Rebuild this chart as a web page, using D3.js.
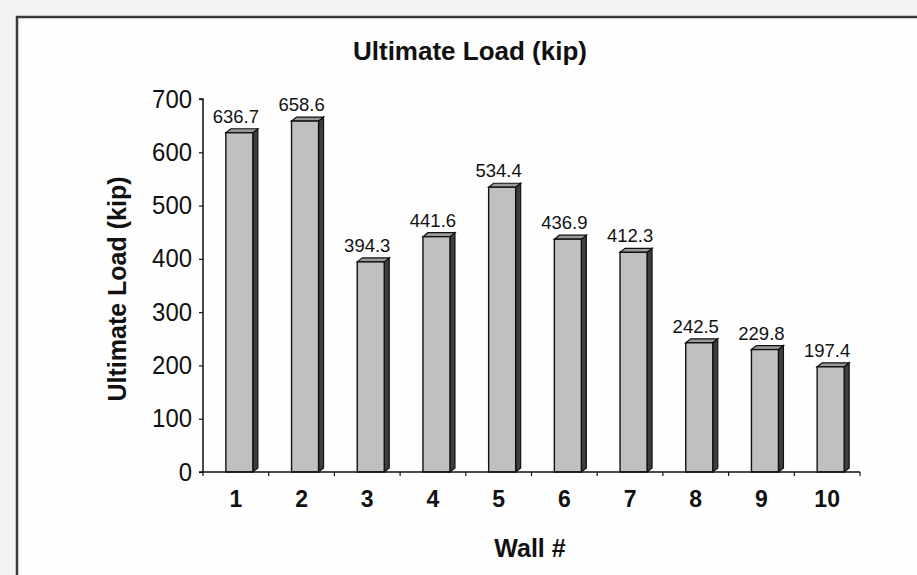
<!DOCTYPE html>
<html>
<head>
<meta charset="utf-8">
<script src="https://cdn.jsdelivr.net/npm/d3@7"></script>
<style>
  html, body { margin: 0; padding: 0; background: #f3f3f3; }
  svg { display: block; font-family: Arial, "Liberation Sans", sans-serif; }
</style>
</head>
<body>
<svg id="chart" width="917" height="575"></svg>
<script>
// Ultimate load of each wall specimen
const walls = ["1", "2", "3", "4", "5", "6", "7", "8", "9", "10"];
const loads = [636.7, 658.6, 394.3, 441.6, 534.4, 436.9, 412.3, 242.5, 229.8, 197.4];
const yTicks = [0, 100, 200, 300, 400, 500, 600, 700];

const svg = d3.select("#chart");
const W = 917, H = 575;

// chart area panel with dark top/left frame
svg.append("rect").attr("x", 16).attr("y", 16).attr("width", W - 16).attr("height", H - 16)
  .attr("fill", "#fefefe");
svg.append("path").attr("d", `M17,${H} V17 H${W}`).attr("fill", "none")
  .attr("stroke", "#3a3a3a").attr("stroke-width", 2.5);

const x0 = 203, x1 = 860, yBase = 472, yTop = 99;
const x = d3.scaleBand().domain(walls).range([x0, x1]).padding(0);
const y = d3.scaleLinear().domain([0, 700]).range([yBase, yTop]);

// 3D column geometry (front face + right side + top)
const dx = 5, dy = 4, left = -10, faceW = 27;

const g = svg.append("g");
const bars = g.selectAll("g.bar").data(walls.map((w, i) => ({ w, v: loads[i] }))).enter()
  .append("g").attr("class", "bar");

bars.append("path") // right side
  .attr("d", d => {
    const c = x(d.w) + x.bandwidth() / 2;
    const xr = c + left + faceW, yt = y(d.v);
    return `M${xr},${yBase} V${yt} L${xr + dx},${yt - dy} V${yBase - dy} Z`;
  })
  .attr("fill", "#3e3e3e").attr("stroke", "#111").attr("stroke-width", 1.2);

bars.append("path") // top
  .attr("d", d => {
    const c = x(d.w) + x.bandwidth() / 2;
    const xl = c + left, yt = y(d.v);
    return `M${xl},${yt} L${xl + dx},${yt - dy} H${xl + faceW + dx} L${xl + faceW},${yt} Z`;
  })
  .attr("fill", "#9a9a9a").attr("stroke", "#111").attr("stroke-width", 1.2);

bars.append("rect") // front
  .attr("x", d => x(d.w) + x.bandwidth() / 2 + left)
  .attr("y", d => y(d.v))
  .attr("width", faceW)
  .attr("height", d => yBase - y(d.v))
  .attr("fill", "#c0c0c0").attr("stroke", "#111").attr("stroke-width", 1.4);

// value labels
bars.append("text")
  .attr("x", d => x(d.w) + x.bandwidth() / 2)
  .attr("y", d => y(d.v) - 10)
  .attr("text-anchor", "middle")
  .attr("font-size", 18.5).attr("fill", "#111")
  .text(d => d.v.toFixed(1));

// y axis
const yAxis = d3.axisLeft(y).tickValues(yTicks).tickSize(4).tickPadding(7).tickFormat(d3.format("d"));
const ya = svg.append("g").attr("transform", `translate(${x0},0)`).call(yAxis);
ya.select(".domain").attr("stroke", "#111").attr("stroke-width", 1.5).attr("d", `M-4,${yTop}H0V${yBase}H-4`);
ya.selectAll(".tick line").attr("stroke", "#111").attr("stroke-width", 1.2);
ya.selectAll(".tick text").attr("font-size", 25).attr("fill", "#111")
  .attr("font-family", "Arial, 'Liberation Sans', sans-serif")
  .attr("textLength", d => String(d).length * 13.3).attr("lengthAdjust", "spacingAndGlyphs");

// x axis: ticks sit between categories
const xa = svg.append("g").attr("transform", `translate(0,${yBase})`);
xa.append("line").attr("x1", x0).attr("x2", x1).attr("y1", 0).attr("y2", 0)
  .attr("stroke", "#111").attr("stroke-width", 1.5);
xa.selectAll("line.tk").data(walls.concat(["end"])).enter().append("line").attr("class", "tk")
  .attr("x1", (d, i) => x0 + i * x.bandwidth()).attr("x2", (d, i) => x0 + i * x.bandwidth())
  .attr("y1", 0).attr("y2", 4).attr("stroke", "#111").attr("stroke-width", 1.2);
xa.selectAll("text").data(walls).enter().append("text")
  .attr("x", d => x(d) + x.bandwidth() / 2)
  .attr("y", 35)
  .attr("text-anchor", "middle")
  .attr("font-size", 23).attr("font-weight", "bold").attr("fill", "#111")
  .text(d => d);

// titles
svg.append("text").attr("x", 470).attr("y", 60).attr("text-anchor", "middle")
  .attr("font-size", 26).attr("font-weight", "bold").attr("fill", "#111")
  .text("Ultimate Load (kip)");
svg.append("text").attr("x", 530).attr("y", 557).attr("text-anchor", "middle")
  .attr("font-size", 25).attr("font-weight", "bold").attr("fill", "#111")
  .text("Wall #");
svg.append("text").attr("transform", "translate(126,289) rotate(-90)").attr("text-anchor", "middle")
  .attr("font-size", 25).attr("font-weight", "bold").attr("fill", "#111")
  .text("Ultimate Load (kip)");
</script>
</body>
</html>
